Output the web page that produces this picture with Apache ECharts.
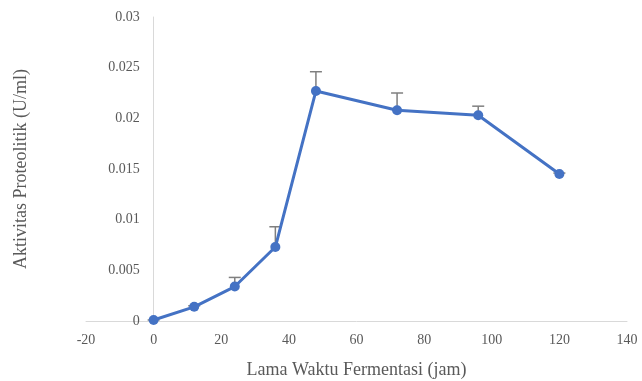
<!DOCTYPE html>
<html><head><meta charset="utf-8">
<script src="https://cdn.jsdelivr.net/npm/echarts@6/dist/echarts.min.js"></script>
<style>html,body{margin:0;padding:0;background:#fff}#c{width:642px;height:381px}</style>
</head><body><div id="c"></div>
<script>
const hours = [0, 12, 24, 36, 48, 72, 96, 120];
const activity = [0.0001, 0.0014, 0.0034, 0.0073, 0.0227, 0.0208, 0.0203, 0.0145];
const errorUp = [0, 0.0001, 0.0009, 0.0020, 0.0019, 0.0017, 0.0009, 0.0001];
const xTicks = [-20, 0, 20, 40, 60, 80, 100, 120, 140];
const yTicks = [0, 0.005, 0.01, 0.015, 0.02, 0.025, 0.03];

const gridLeft = 86, gridRight = 15;
const plotW = 642 - gridLeft - gridRight;
const xMin = xTicks[0], xMax = xTicks[xTicks.length - 1];
const yAxisOffset = -((0 - xMin) / (xMax - xMin)) * plotW;

const chart = echarts.init(document.getElementById('c'));
const lineData = hours.map((h, i) => [h, activity[i]]);
const errData = hours.map((h, i) => [h, activity[i], activity[i] + errorUp[i]]);
const font = '"Liberation Serif", "Times New Roman", serif';
chart.setOption({
  animation: false,
  grid: { left: gridLeft, right: gridRight, top: 17, bottom: 60, outerBoundsMode: 'none', containLabel: false },
  xAxis: {
    type: 'value', min: xMin, max: xMax, interval: 20,
    name: 'Lama Waktu Fermentasi (jam)', nameLocation: 'middle', nameGap: 40,
    nameTextStyle: { fontFamily: font, fontSize: 18, color: '#595959' },
    axisLine: { onZero: false, lineStyle: { color: '#d9d9d9', width: 1 } },
    axisTick: { show: false },
    axisLabel: { fontFamily: font, fontSize: 14, color: '#595959', margin: 12 },
    splitLine: { show: false }
  },
  yAxis: {
    type: 'value', min: yTicks[0], max: yTicks[yTicks.length - 1], interval: 0.005,
    offset: yAxisOffset,
    name: 'Aktivitas Proteolitik (U/ml)', nameLocation: 'middle', nameGap: 123,
    nameTextStyle: { fontFamily: font, fontSize: 18, color: '#595959' },
    axisLine: { show: true, onZero: false, lineStyle: { color: '#d9d9d9', width: 1 } },
    axisTick: { show: false },
    axisLabel: { fontFamily: font, fontSize: 14, color: '#595959', margin: 14 },
    splitLine: { show: false }
  },
  series: [
    {
      type: 'line', data: lineData, symbol: 'circle', symbolSize: 10,
      lineStyle: { color: '#4472C4', width: 3 }, itemStyle: { color: '#4472C4' },
      z: 3
    },
    {
      type: 'custom', data: errData, z: 2,
      renderItem: function (params, api) {
        const x = api.value(0), y0 = api.value(1), y1 = api.value(2);
        const p0 = api.coord([x, y0]), p1 = api.coord([x, y1]);
        const hw = 6;
        const st = { stroke: '#7f7f7f', lineWidth: 1.5 };
        return { type: 'group', children: [
          { type: 'line', shape: { x1: p0[0], y1: p0[1], x2: p1[0], y2: p1[1] }, style: st },
          { type: 'line', shape: { x1: p1[0] - hw, y1: p1[1], x2: p1[0] + hw, y2: p1[1] }, style: st }
        ]};
      }
    }
  ]
});
</script></body></html>
